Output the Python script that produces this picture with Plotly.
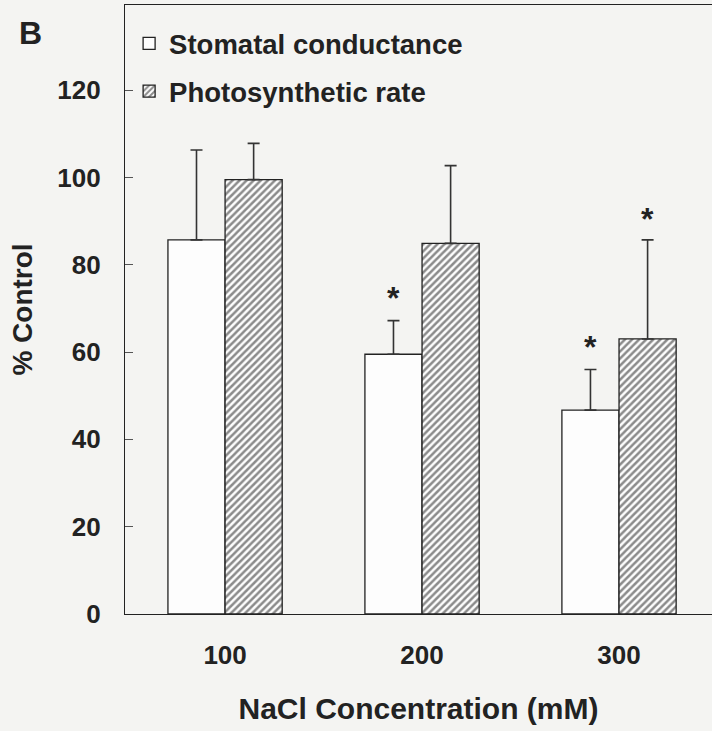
import plotly.graph_objects as go

# ---- data ----
concentrations = ["100", "200", "300"]
stomatal = [85.7, 59.5, 46.7]
stomatal_err = [20.6, 7.7, 9.3]
photo = [99.5, 84.9, 63.0]
photo_err = [8.3, 17.8, 22.7]
stomatal_sig = [False, True, True]
photo_sig = [False, False, True]
y_ticks = [0, 20, 40, 60, 80, 100, 120]

FONT = "Liberation Sans"
INK = "#222222"
BG = "#f4f4f2"

fig = go.Figure()
fig.add_trace(go.Bar(
    x=concentrations, y=stomatal, name="Stomatal conductance",
    legendgroup="a",
    marker=dict(color="#fdfdfd", line=dict(color=INK, width=1.3)),
    error_y=dict(type="data", array=stomatal_err, arrayminus=[0] * 3, symmetric=False,
                 color="#333333", thickness=1.6, width=6),
))
fig.add_trace(go.Bar(
    x=concentrations, y=photo, name="Photosynthetic rate",
    legendgroup="b",
    marker=dict(color="#fdfdfd", line=dict(color=INK, width=1.3),
                pattern=dict(shape="/", fgcolor="#1a1a1a", bgcolor="#fdfdfd",
                             size=5, solidity=0.5)),
    error_y=dict(type="data", array=photo_err, arrayminus=[0] * 3, symmetric=False,
                 color="#333333", thickness=1.6, width=6),
))

star_font = dict(family=FONT, size=32, color=INK, weight="bold")
annotations = []
half = 28.5
for i, c in enumerate(concentrations):
    if stomatal_sig[i]:
        annotations.append(dict(x=i, y=stomatal[i] + stomatal_err[i], xref="x", yref="y",
                                text="*", showarrow=False, xshift=-half, yshift=3,
                                yanchor="bottom", font=star_font))
    if photo_sig[i]:
        annotations.append(dict(x=i, y=photo[i] + photo_err[i], xref="x", yref="y",
                                text="*", showarrow=False, xshift=half, yshift=1,
                                yanchor="bottom", font=star_font))
# panel letter (plot area spans x 125..712 px, y 5..614 px)
annotations.append(dict(x=(30 - 125) / 587, y=1 - (33 - 5) / 609, xref="paper", yref="paper",
                        text="B", showarrow=False, xanchor="center", yanchor="middle",
                        font=dict(family=FONT, size=32, color=INK, weight="bold")))

fig.update_layout(
    width=712, height=731,
    margin=dict(l=125, r=0, t=5, b=117),
    paper_bgcolor=BG, plot_bgcolor=BG,
    barmode="group", bargap=0.42, bargroupgap=0,
    font=dict(family=FONT, color=INK, size=25, weight="bold"),
    showlegend=True,
    legend=dict(x=0.007, y=0.977, xanchor="left", yanchor="top",
                bgcolor="rgba(0,0,0,0)", font=dict(family=FONT, size=27.5, color=INK, weight="bold"),
                traceorder="grouped", tracegroupgap=9, itemwidth=30),
    annotations=annotations,
    xaxis=dict(type="category", categoryorder="array", categoryarray=concentrations,
               range=[-0.508, 2.472], showline=True, linecolor=INK, linewidth=1.3,
               mirror=True, ticks="", showgrid=False, zeroline=False,
               ticklabelstandoff=18, automargin=False,
               tickfont=dict(family=FONT, size=26, color=INK, weight="bold"),
               title=dict(text="NaCl Concentration (mM)", standoff=28,
                          font=dict(family=FONT, size=30, color=INK, weight="bold"))),
    yaxis=dict(range=[0, 139.5], tickvals=y_ticks, showline=True, linecolor=INK, linewidth=1.3,
               mirror=False, ticks="inside", ticklen=8, tickcolor="#555555", tickwidth=1,
               showgrid=False, zeroline=False, ticklabelstandoff=18, automargin=False,
               tickfont=dict(family=FONT, size=26, color=INK, weight="bold"),
               title=dict(text="% Control", standoff=16,
                          font=dict(family=FONT, size=28, color=INK, weight="bold"))),
)

fig.write_html("out.html")
